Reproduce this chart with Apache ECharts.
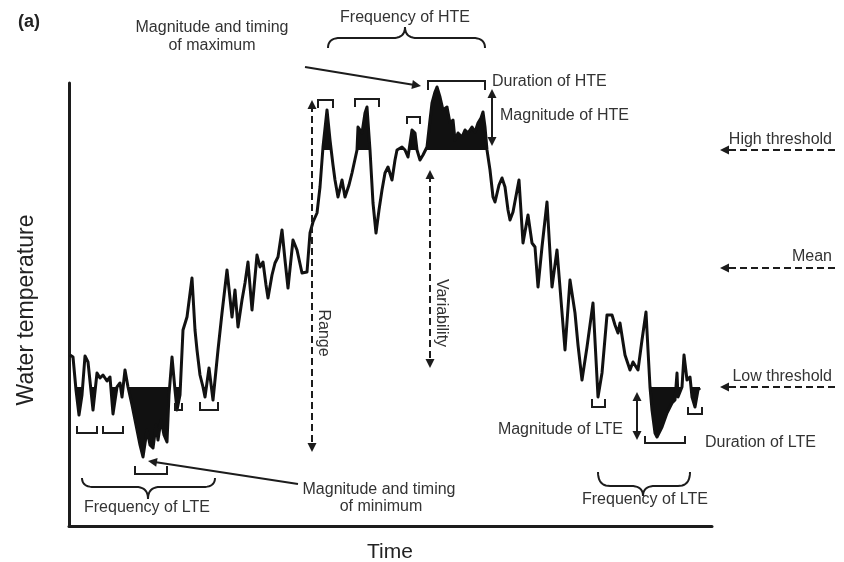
<!DOCTYPE html>
<html><head><meta charset="utf-8">
<script src="https://cdn.jsdelivr.net/npm/echarts/dist/echarts.min.js"></script>
<style>html,body{margin:0;padding:0;background:#fff}#c{width:844px;height:562px}</style>
</head><body><div id="c"></div>
<script>
// ---- data (arbitrary schematic units) ----
const time = [1,4,7,10,13,16,19,21,24,28,
31,34,38,41,44,48,51,53,56,59,
63,67,71,74,78,81,84,87,89,92,
95,98,100,103,106,108,111,114,118,123,
126,128,131,134,136,140,144,149,153,158,
163,166,169,173,176,179,183,188,191,194,
197,199,203,206,209,213,216,219,224,228,
233,238,241,244,248,251,254,258,261,264,
266,269,273,276,280,283,288,289,293,296,
298,301,304,307,310,313,316,319,323,326,
328,333,336,339,343,346,348,351,354,358,
361,363,366,368,371,374,378,381,384,386,
389,393,396,399,403,406,409,412,414,416,
418,421,424,426,430,433,436,439,441,444,
450,454,459,463,466,469,473,478,483,488,
492,496,501,506,509,513,518,524,529,533,
538,543,546,549,551,556,561,564,569,573,
577,579,581,583,586,588,593,598,603,606,
608,609,613,615,618,621,623,626,629,631];
const temperature = [171,169,136,111,131,170,164,166,116,153,
148,151,145,149,112,139,143,129,156,139,
121,101,81,69,96,81,78,101,86,106,
91,84,131,169,136,116,131,196,209,248,
196,176,151,139,129,158,126,176,213,256,
209,236,199,226,243,264,216,271,259,264,
241,228,251,263,269,296,266,238,286,276,
253,254,293,304,313,339,379,416,386,361,
346,329,346,329,341,353,376,399,393,413,
419,376,323,293,316,336,353,359,346,366,
376,379,376,369,396,393,376,366,371,379,
406,423,434,439,429,416,419,403,406,386,
393,389,396,393,399,394,403,408,414,399,
376,356,329,324,341,348,339,316,306,314,
346,283,311,283,279,239,279,324,239,276,
226,176,246,213,181,146,179,223,129,153,
211,211,201,193,203,171,156,164,156,186,
214,176,139,116,93,89,99,113,123,126,
153,129,139,171,146,149,129,119,136,138];
const highThreshold = 376;
const lowThreshold = 139;
const timeRange = [0, 643];
const tempRange = [0, 443];

const chart = echarts.init(document.getElementById('c'), null, {renderer: 'canvas'});

const n = Math.min(time.length, temperature.length);
const linePts = Array.from({length: n}, (_, i) => [time[i], temperature[i]]);

// clipped curve against a threshold (crossings inserted), in data units
function clipPts(thr, below) {
  const out = [];
  for (let i = 0; i < n; i++) {
    const t = time[i], v = temperature[i];
    if (i > 0) {
      const t0 = time[i - 1], v0 = temperature[i - 1];
      if ((v0 - thr) * (v - thr) < 0) {
        out.push([t0 + (thr - v0) / (v - v0) * (t - t0), thr]);
      }
    }
    out.push([t, below ? Math.min(v, thr) : Math.max(v, thr)]);
  }
  out.push([time[n - 1], thr]);
  out.push([time[0], thr]);
  return out;
}
const lowPoly = clipPts(lowThreshold, true);
const highPoly = clipPts(highThreshold, false);

function renderFill(params, api) {
  if (params.dataIndex !== 0) return;
  return {type: 'group', children: [lowPoly, highPoly].map(poly => ({
    type: 'polygon', shape: {points: poly.map(p => api.coord(p))},
    style: {fill: '#111', stroke: null}
  }))};
}

const INK = '#1c1c1c';
const TXT = '#333';
const FONT = '"Liberation Sans", Arial, sans-serif';
const els = [];
function seg(x1, y1, x2, y2, o) {
  o = o || {};
  els.push({type: 'line', z: 100, shape: {x1, y1, x2, y2},
    style: {stroke: o.color || INK, lineWidth: o.w || 2, lineDash: o.dash || null}});
}
function head(tx, ty, ux, uy, len, hw) {
  len = len || 9; hw = hw || 4.5;
  const bx = tx - ux * len, by = ty - uy * len;
  els.push({type: 'polygon', z: 101, shape: {points: [[tx, ty], [bx - uy * hw, by + ux * hw], [bx + uy * hw, by - ux * hw]]},
    style: {fill: INK}});
}
function arrow(x1, y1, x2, y2, o) {
  const L = Math.hypot(x2 - x1, y2 - y1), ux = (x2 - x1) / L, uy = (y2 - y1) / L;
  seg(x1, y1, x2 - ux * 5, y2 - uy * 5, o);
  head(x2, y2, ux, uy, (o && o.len) || 9, (o && o.hw) || 4.5);
}
function dblArrow(x1, y1, x2, y2, o) {
  const L = Math.hypot(x2 - x1, y2 - y1), ux = (x2 - x1) / L, uy = (y2 - y1) / L;
  seg(x1 + ux * 5, y1 + uy * 5, x2 - ux * 5, y2 - uy * 5, o);
  head(x2, y2, ux, uy, (o && o.len) || 9, (o && o.hw) || 4.5);
  head(x1, y1, -ux, -uy, (o && o.len) || 9, (o && o.hw) || 4.5);
}
function bracket(xa, xb, y, legY) {
  els.push({type: 'polyline', z: 100, shape: {points: [[xa, legY], [xa, y], [xb, y], [xb, legY]]},
    style: {stroke: INK, lineWidth: 2, fill: null}});
}
function qb(p0, c, p1) {
  const out = [];
  for (let i = 0; i <= 10; i++) {
    const t = i / 10;
    out.push([(1 - t) * (1 - t) * p0[0] + 2 * (1 - t) * t * c[0] + t * t * p1[0],
              (1 - t) * (1 - t) * p0[1] + 2 * (1 - t) * t * c[1] + t * t * p1[1]]);
  }
  return out;
}
function brace(x0, x1, xc, yEnd, yMid, yCusp) {
  const r = 12;
  let p = [];
  p = p.concat(qb([x0, yEnd], [x0, yMid], [x0 + r, yMid]));
  p = p.concat(qb([xc - r, yMid], [xc, yMid], [xc, yCusp]));
  p = p.concat(qb([xc, yCusp], [xc, yMid], [xc + r, yMid]));
  p = p.concat(qb([x1 - r, yMid], [x1, yMid], [x1, yEnd]));
  els.push({type: 'polyline', z: 100, shape: {points: p}, style: {stroke: INK, lineWidth: 2, fill: null}});
}
function label(str, x, y, o) {
  o = o || {};
  els.push({type: 'text', z: 102, x, y, rotation: o.rot || 0,
    style: {text: str, fill: o.color || TXT, font: (o.weight || 'normal') + ' ' + (o.size || 16) + 'px ' + FONT,
      textAlign: o.align || 'center', textVerticalAlign: 'middle', align: o.align || 'center', verticalAlign: 'middle'}});
}

// brackets (events)
bracket(318, 333, 100, 108);
bracket(355, 379, 99, 107);
bracket(407, 420, 117, 124);
bracket(428, 485, 81, 90);
bracket(77, 97, 433, 426);
bracket(103, 123, 433, 426);
bracket(135, 167, 474, 466);
bracket(175, 182, 410, 403);
bracket(200, 218, 410, 402);
bracket(592, 605, 407, 399);
bracket(645, 685, 443, 436);
bracket(688, 702, 414, 407);

// braces
brace(328, 485, 405, 48, 38, 27);
brace(82, 215, 148, 478, 487, 499);
brace(598, 690, 643, 472, 486, 496);

// arrows
dblArrow(492, 89, 492, 146, {w: 2});
dblArrow(637, 392, 637, 440, {w: 2});
dblArrow(312, 100, 312, 452, {w: 2, dash: [7, 4]});
dblArrow(430, 170, 430, 368, {w: 2, dash: [7, 4]});
arrow(305, 67, 421, 86, {w: 2});
arrow(298, 484, 148, 461, {w: 2});
arrow(835, 150, 720, 150, {w: 2, dash: [7, 4]});
arrow(835, 268, 720, 268, {w: 2, dash: [7, 4]});
arrow(835, 387, 720, 387, {w: 2, dash: [7, 4]});

// texts
label('(a)', 29, 22, {size: 18, color: '#222', weight: 'bold'});
label('Frequency of HTE', 405, 18);
label('Magnitude and timing', 212, 28);
label('of maximum', 212, 46);
label('Duration of HTE', 492, 82, {align: 'left'});
label('Magnitude of HTE', 500, 116, {align: 'left'});
label('High threshold', 832, 140, {align: 'right'});
label('Mean', 832, 257, {align: 'right'});
label('Low threshold', 832, 377, {align: 'right'});
label('Range', 323, 333, {rot: -Math.PI / 2});
label('Variability', 441, 313, {rot: -Math.PI / 2});
label('Magnitude of LTE', 623, 430, {align: 'right'});
label('Duration of LTE', 705, 443, {align: 'left'});
label('Frequency of LTE', 147, 508);
label('Frequency of LTE', 645, 500);
label('Magnitude and timing', 379, 490);
label('of minimum', 381, 507);
label('Water temperature', 27, 310, {rot: Math.PI / 2, size: 23, color: '#222'});
label('Time', 390, 552, {size: 21, color: '#222'});

chart.setOption({
  animation: false,
  backgroundColor: '#fff',
  grid: {left: 69, right: 132, top: 83, bottom: 36, containLabel: false},
  xAxis: {type: 'value', min: timeRange[0], max: timeRange[1],
    axisLine: {show: true, onZero: false, lineStyle: {color: INK, width: 3}},
    axisTick: {show: false}, axisLabel: {show: false}, splitLine: {show: false}},
  yAxis: {type: 'value', min: tempRange[0], max: tempRange[1],
    axisLine: {show: true, onZero: false, lineStyle: {color: INK, width: 3}},
    axisTick: {show: false}, axisLabel: {show: false}, splitLine: {show: false}},
  series: [
    {type: 'custom', name: 'threshold events', data: [[0, 0]], renderItem: renderFill,
      silent: true, z: 3, clip: false},
    {type: 'line', name: 'Water temperature', data: linePts, symbol: 'none', silent: true, z: 5,
      lineStyle: {color: '#111', width: 3, join: 'round'}}
  ],
  graphic: {elements: els}
});
</script>
</body></html>
